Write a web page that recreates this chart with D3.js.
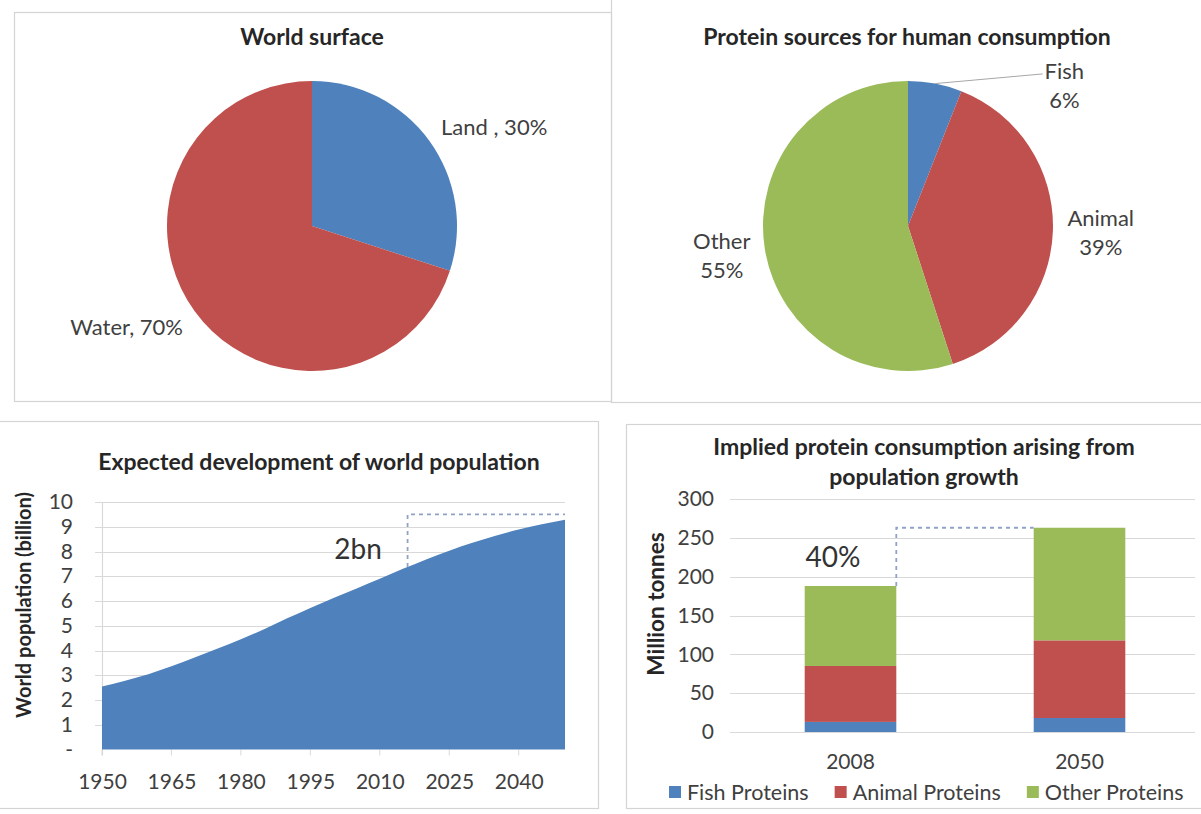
<!DOCTYPE html>
<html>
<head>
<meta charset="utf-8">
<script src="https://cdn.jsdelivr.net/npm/d3@7"></script>
<style>
  body { margin: 0; background: #fff; }
  svg { display: block; }
  text { font-family: Lato, "Open Sans", sans-serif; }
</style>
</head>
<body>
<svg id="chart" width="1201" height="814"></svg>
<script>
// ---- data ----
const surfaceLabels = ["Land", "Water"];
const surfaceShares = [30, 70];

const proteinLabels = ["Fish", "Animal", "Other"];
const proteinShares = [6, 39, 55];

const popYears  = [1950, 1955, 1960, 1965, 1970, 1975, 1980, 1985, 1990, 1995, 2000,
                   2005, 2010, 2015, 2020, 2025, 2030, 2035, 2040, 2045, 2050];
const popValues = [2.55, 2.78, 3.04, 3.36, 3.72, 4.08, 4.45, 4.86, 5.30, 5.72, 6.12,
                   6.51, 6.90, 7.30, 7.68, 8.03, 8.35, 8.64, 8.89, 9.10, 9.28];
const popTickYears = [1950, 1965, 1980, 1995, 2010, 2025, 2040];
const popTicks = [0, 1, 2, 3, 4, 5, 6, 7, 8, 9, 10];
const gapStartYear = 2016;
const gapLevel = 9.5;
const gapLabel = "2bn";

const consumptionYears = ["2008", "2050"];
const fishProteins   = [13, 18];
const animalProteins = [72, 100];
const otherProteins  = [103, 145];
const consumptionTicks = [0, 50, 100, 150, 200, 250, 300];
const seriesNames = ["Fish Proteins", "Animal Proteins", "Other Proteins"];
const growthLabel = "40%";

// ---- styling ----
const BLUE = "#4f81bd", RED = "#c0504d", GREEN = "#9bbb59";
const TITLE = "#262626", LABEL = "#404040", GRID = "#d9d9d9", FRAME = "#d4d4d4";
const DASH = "#8ea3c6";
const TITLE_SIZE = 23, LABEL_SIZE = 22, TICK_SIZE = 21;

const svg = d3.select("#chart");

// panel frames
const frames = [
  {x: 14, y: 12, w: 597, h: 389},
  {x: 611, y: -2, w: 600, h: 404},
  {x: -2, y: 421, w: 600, h: 387},
  {x: 626, y: 424, w: 590, h: 384}
];
svg.selectAll("rect.frame").data(frames).join("rect")
  .attr("class", "frame")
  .attr("x", d => d.x + 0.5).attr("y", d => d.y + 0.5)
  .attr("width", d => d.w).attr("height", d => d.h)
  .attr("fill", "none").attr("stroke", FRAME).attr("stroke-width", 1.2);

function title(g, lines, x, y, lineH) {
  g.append("text").attr("x", x).attr("y", y)
    .attr("text-anchor", "middle").attr("font-weight", 700)
    .attr("font-size", TITLE_SIZE).attr("fill", TITLE)
    .selectAll("tspan").data(lines).join("tspan")
    .attr("x", x).attr("dy", (d, i) => i === 0 ? "0.35em" : lineH)
    .text(d => d);
}

// ---- pie: world surface ----
{
  const g = svg.append("g");
  title(g, ["World surface"], 312, 37, 0);
  const r = 145, cx = 312, cy = 226;
  const pie = d3.pie().sort(null).value(d => d.v);
  const arcs = pie(surfaceLabels.map((k, i) => ({k, v: surfaceShares[i]})));
  const arc = d3.arc().innerRadius(0).outerRadius(r);
  const pg = g.append("g").attr("transform", `translate(${cx},${cy})`);
  pg.selectAll("path").data(arcs).join("path")
    .attr("d", arc).attr("fill", (d, i) => [BLUE, RED][i]);
  const outer = d3.arc().innerRadius(r * 1.1).outerRadius(r * 1.1);
  const nudge = [-5, 8];
  pg.selectAll("text").data(arcs).join("text")
    .attr("x", d => outer.centroid(d)[0])
    .attr("y", (d, i) => outer.centroid(d)[1] + nudge[i])
    .attr("dy", "0.35em")
    .attr("text-anchor", d => outer.centroid(d)[0] > 0 ? "start" : "end")
    .attr("font-size", LABEL_SIZE).attr("fill", LABEL)
    .text(d => d.data.k === "Land" ? `${d.data.k} , ${d.data.v}%` : `${d.data.k}, ${d.data.v}%`);
}

// ---- pie: protein sources ----
{
  const g = svg.append("g");
  title(g, ["Protein sources for human consumption"], 907, 37, 0);
  const r = 145, cx = 908, cy = 226;
  const pie = d3.pie().sort(null).value(d => d.v);
  const arcs = pie(proteinLabels.map((k, i) => ({k, v: proteinShares[i]})));
  const arc = d3.arc().innerRadius(0).outerRadius(r);
  const pg = g.append("g").attr("transform", `translate(${cx},${cy})`);
  pg.selectAll("path").data(arcs).join("path")
    .attr("d", arc).attr("fill", (d, i) => [BLUE, RED, GREEN][i]);

  const lineH = 29;
  const placeAt = (d, radius) => {
    const a = (d.startAngle + d.endAngle) / 2;
    return [Math.sin(a) * radius, -Math.cos(a) * radius];
  };
  arcs.forEach(d => {
    const small = d.data.v < 10;
    let [lx, ly] = placeAt(d, r * 1.1);
    if (small) {
      // rotate the label outward and draw a leader line to it
      const a = (d.startAngle + d.endAngle) / 2 + 0.65;
      lx = Math.sin(a) * r * 1.45; ly = -Math.cos(a) * r * 1.45;
    } else if (lx < 0) {
      ly += 5;
    } else {
      ly += 2;
    }
    const t = pg.append("text").attr("font-size", LABEL_SIZE).attr("fill", LABEL)
      .attr("text-anchor", "middle");
    const l1 = t.append("tspan").text(d.data.k);
    const l2 = t.append("tspan").text(`${d.data.v}%`);
    const w = Math.max(l1.node().getComputedTextLength(), l2.node().getComputedTextLength());
    const mid = small ? lx : (lx > 0 ? lx + w / 2 : lx - w / 2);
    const top = ly - lineH / 2;
    l1.attr("x", mid).attr("y", top).attr("dy", "0.35em");
    l2.attr("x", mid).attr("y", top + lineH).attr("dy", "0.35em");
    if (small) {
      const [ex, ey] = placeAt(d, r);
      pg.append("line")
        .attr("x1", ex).attr("y1", ey)
        .attr("x2", mid - w / 2 - 2).attr("y2", top + 3)
        .attr("stroke", "#a6a6a6").attr("stroke-width", 1);
    }
  });
}

// ---- area: world population ----
{
  const g = svg.append("g");
  title(g, ["Expected development of world population"], 319, 462, 0);
  const x = d3.scaleLinear().domain([1950, 2050]).range([102, 565]);
  const y = d3.scaleLinear().domain([0, 10]).range([749.5, 502]);

  g.append("g").selectAll("line").data(popTicks.filter(t => t > 0)).join("line")
    .attr("x1", 95).attr("x2", 565)
    .attr("y1", d => Math.round(y(d)) + 0.5).attr("y2", d => Math.round(y(d)) + 0.5)
    .attr("stroke", GRID).attr("stroke-width", 1.2);
  g.append("line").attr("x1", 102.5).attr("x2", 102.5).attr("y1", y(10)).attr("y2", y(0) + 6)
    .attr("stroke", GRID).attr("stroke-width", 1.2);
  g.append("g").selectAll("line").data(popTickYears).join("line")
    .attr("x1", d => x(d)).attr("x2", d => x(d))
    .attr("y1", y(0)).attr("y2", y(0) + 6)
    .attr("stroke", GRID);

  const pts = popYears.map((yr, i) => [yr, popValues[i]]);
  const area = d3.area().x(d => x(d[0])).y0(y(0)).y1(d => y(d[1])).curve(d3.curveMonotoneX);
  g.append("path").datum(pts).attr("d", area).attr("fill", BLUE);

  // y axis
  const ya = g.append("g").attr("transform", "translate(73,0)")
    .call(d3.axisLeft(y).tickValues(popTicks).tickSize(0).tickPadding(0)
      .tickFormat(d => d === 0 ? "-" : d));
  ya.select(".domain").remove();
  ya.selectAll("text").attr("font-size", TICK_SIZE).attr("fill", LABEL).attr("font-family", null);

  // x axis
  const xa = g.append("g").attr("transform", `translate(0,${y(0)})`)
    .call(d3.axisBottom(x).tickValues(popTickYears).tickFormat(d3.format("d")).tickSize(0).tickPadding(25));
  xa.select(".domain").remove();
  xa.selectAll("text").attr("font-size", TICK_SIZE).attr("fill", LABEL).attr("font-family", null);

  g.append("text").attr("transform", "translate(24,605) rotate(-90)")
    .attr("text-anchor", "middle").attr("dy", "0.35em")
    .attr("font-size", 20).attr("font-weight", 700).attr("fill", TITLE)
    .text("World population (billion)");

  // gap annotation
  const bisect = d3.bisector(d => d[0]).right;
  const k = bisect(pts, gapStartYear);
  const p0 = pts[k - 1], p1 = pts[k];
  const startVal = p0[1] + (p1[1] - p0[1]) * (gapStartYear - p0[0]) / (p1[0] - p0[0]);
  g.append("path")
    .attr("d", `M${x(gapStartYear)},${y(startVal)}V${y(gapLevel)}H${x(2050)}`)
    .attr("fill", "none").attr("stroke", DASH).attr("stroke-width", 1.8)
    .attr("stroke-dasharray", "4,4");
  g.append("text").attr("x", 358).attr("y", 549).attr("dy", "0.35em")
    .attr("text-anchor", "middle").attr("font-size", 28).attr("fill", "#333")
    .text(gapLabel);
}

// ---- stacked bars: protein consumption ----
{
  const g = svg.append("g");
  title(g, ["Implied protein consumption arising from", "population growth"], 924, 447, 30);
  const x = d3.scaleBand().domain(consumptionYears).range([736, 1194])
    .paddingInner(0.6).paddingOuter(0.3);
  const y = d3.scaleLinear().domain([0, 300]).range([732, 499]);

  g.append("g").selectAll("line").data(consumptionTicks).join("line")
    .attr("x1", 730).attr("x2", 1195)
    .attr("y1", d => Math.round(y(d)) + 0.5).attr("y2", d => Math.round(y(d)) + 0.5)
    .attr("stroke", GRID).attr("stroke-width", 1.2);

  const rows = consumptionYears.map((yr, i) => ({
    year: yr,
    "Fish Proteins": fishProteins[i],
    "Animal Proteins": animalProteins[i],
    "Other Proteins": otherProteins[i]
  }));
  const stack = d3.stack().keys(seriesNames)(rows);
  const colors = d3.scaleOrdinal().domain(seriesNames).range([BLUE, RED, GREEN]);
  g.append("g").selectAll("g").data(stack).join("g")
    .attr("fill", d => colors(d.key))
    .selectAll("rect").data(d => d).join("rect")
    .attr("x", d => x(d.data.year)).attr("width", x.bandwidth())
    .attr("y", d => y(d[1])).attr("height", d => y(d[0]) - y(d[1]));

  const ya = g.append("g").attr("transform", "translate(714,0)")
    .call(d3.axisLeft(y).tickValues(consumptionTicks).tickSize(0).tickPadding(0));
  ya.select(".domain").remove();
  ya.selectAll("text").attr("font-size", TICK_SIZE).attr("fill", LABEL).attr("font-family", null);

  const xa = g.append("g").attr("transform", `translate(0,${y(0)})`)
    .call(d3.axisBottom(x).tickSize(0).tickPadding(22));
  xa.select(".domain").remove();
  xa.selectAll("text").attr("font-size", TICK_SIZE).attr("fill", LABEL).attr("font-family", null);

  g.append("text").attr("transform", "translate(656,604) rotate(-90)")
    .attr("text-anchor", "middle").attr("dy", "0.35em")
    .attr("font-size", 22.5).attr("font-weight", 700).attr("fill", TITLE)
    .text("Million tonnes");

  // growth connector between the two totals
  const total = i => fishProteins[i] + animalProteins[i] + otherProteins[i];
  const xr = x(consumptionYears[0]) + x.bandwidth();
  g.append("path")
    .attr("d", `M${xr},${y(total(0))}V${y(total(1))}H${x(consumptionYears[1])}`)
    .attr("fill", "none").attr("stroke", DASH).attr("stroke-width", 1.8)
    .attr("stroke-dasharray", "4,4");
  g.append("text").attr("x", 833).attr("y", 557).attr("dy", "0.35em")
    .attr("text-anchor", "middle").attr("font-size", 28).attr("fill", "#333")
    .text(growthLabel);

  // legend
  const lg = g.append("g").attr("transform", "translate(669,792)");
  let cx = 0;
  seriesNames.forEach(name => {
    lg.append("rect").attr("x", cx).attr("y", -6).attr("width", 12).attr("height", 12)
      .attr("fill", colors(name));
    const t = lg.append("text").attr("x", cx + 18).attr("dy", "0.35em")
      .attr("font-size", 21.5).attr("fill", LABEL).text(name);
    cx += 18 + t.node().getComputedTextLength() + 26;
  });
}
</script>
</body>
</html>
